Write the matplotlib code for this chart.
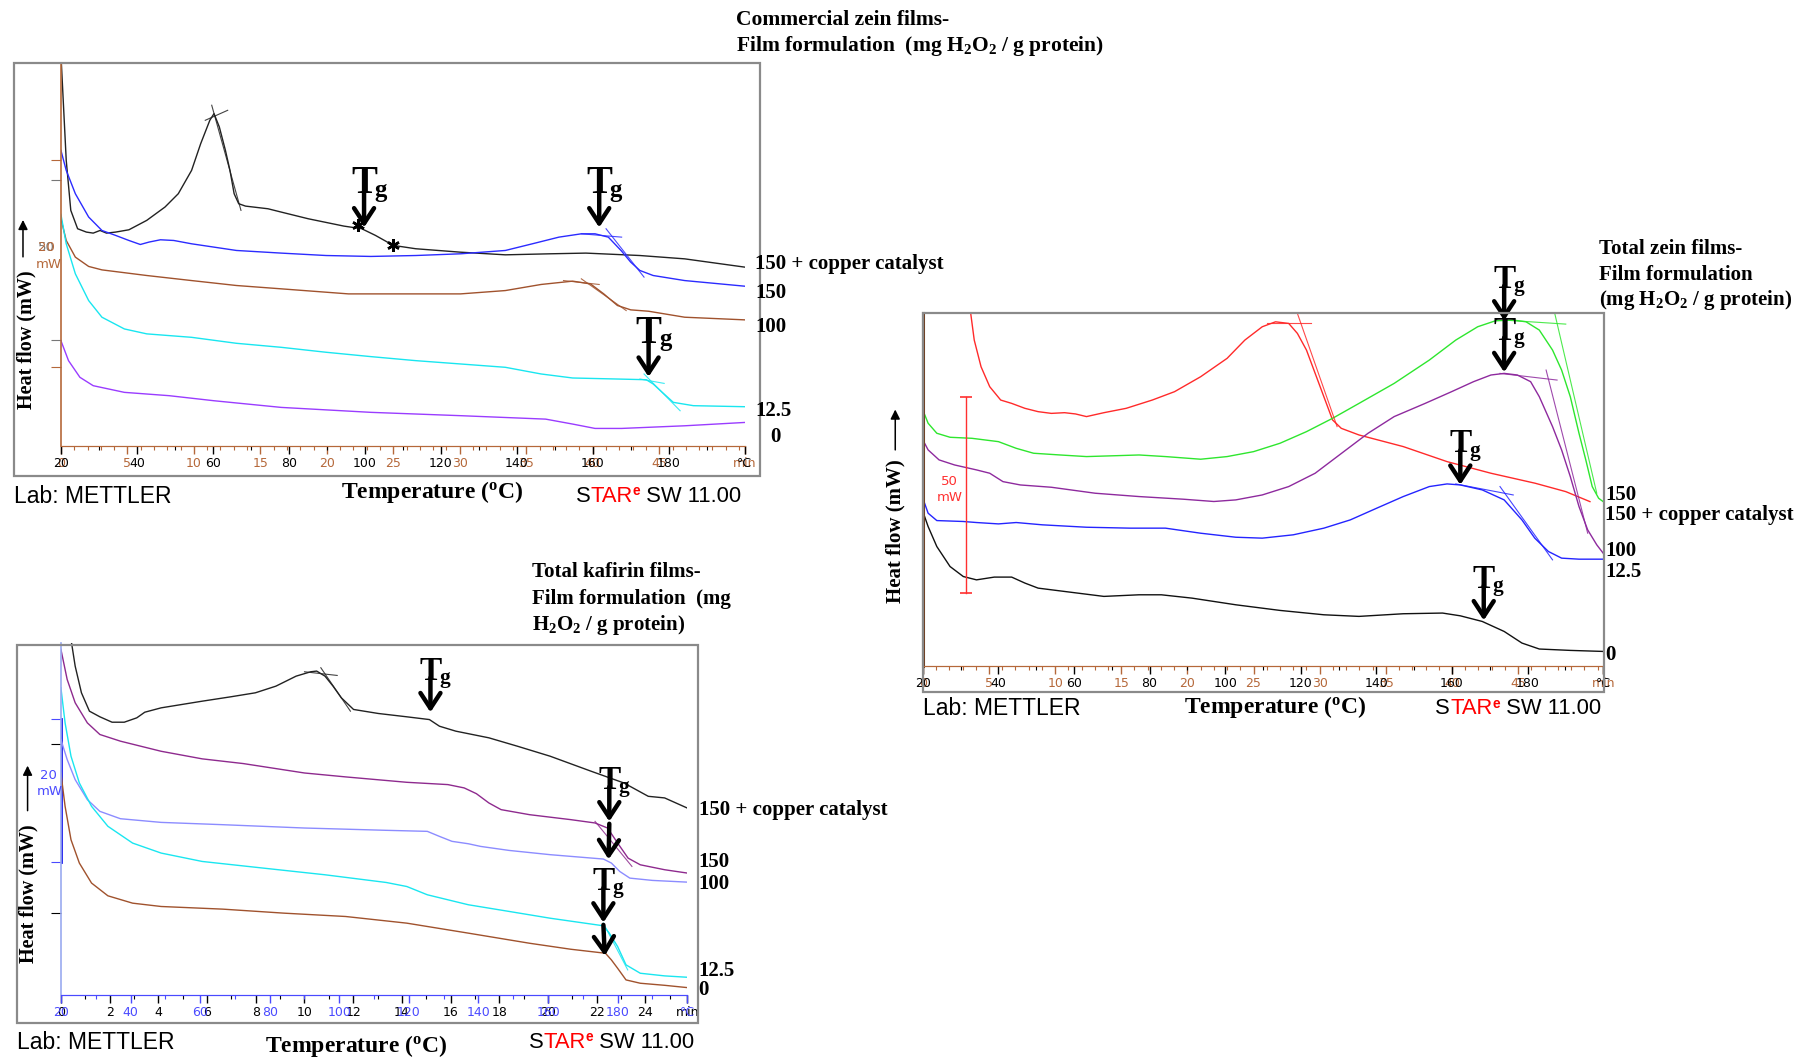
import numpy as np
import matplotlib
matplotlib.use("Agg")
import matplotlib.pyplot as plt
from matplotlib.patches import Rectangle, FancyArrowPatch

plt.rcParams['font.family'] = ['Liberation Serif', 'DejaVu Serif']
plt.rcParams['mathtext.fontset'] = 'custom'
plt.rcParams['mathtext.rm'] = 'Liberation Serif:bold'
plt.rcParams['mathtext.it'] = 'Liberation Serif:bold'
plt.rcParams['mathtext.bf'] = 'Liberation Serif:bold'

# ---------------- data (temperature in °C, heat flow in relative units) ----------------
T_START, T_END = 20, 200
RATE_ZEIN = 3.5      # °C/min  (panels 1 and 2)
RATE_KAF = 7.0       # °C/min  (panel 3)

# Panel 1: Commercial zein films
p1_cu_T = [20.0, 21.4, 22.6, 24.4, 26.7, 28.5, 30.3, 32.0, 34.4, 37.9, 42.6, 47.4, 50.9, 54.4, 56.8, 59.2, 60.3,
           61.7, 63.3, 64.5, 65.6, 66.8, 68.6, 74.5, 78.0, 85.1, 94.5, 99.2, 102.8, 107.5, 113.4, 125.2, 137.0,
           148.8, 158.2, 172.4, 184.2, 200.0]
p1_cu_hf = [341, 248.5, 204.9, 188.9, 186.0, 185.1, 187.4, 185.1, 186.0, 188.0, 196.2, 207.8, 219.4, 239.7, 263.0,
            283.3, 289.1, 277.5, 257.2, 239.7, 219.4, 210.7, 208.6, 206.3, 203.4, 197.6, 191.2, 188.9, 183.1, 174.4,
            171.5, 168.5, 166.2, 167.1, 167.7, 165.6, 162.7, 155.5]
p1_150_T = [20.0, 21.4, 23.8, 27.3, 30.8, 34.4, 37.9, 40.9, 43.2, 46.2, 49.7, 54.4, 66.2, 78.0, 89.8, 101.6, 113.4,
            125.2, 137.0, 144.1, 151.1, 157.0, 160.6, 164.1, 167.6, 170.0, 172.4, 175.9, 184.2, 200.0]
p1_150_hf = [257.2, 239.7, 219.4, 199.1, 187.4, 183.1, 178.7, 175.2, 177.3, 179.3, 178.7, 175.8, 170.0, 167.7, 165.6,
             164.8, 165.6, 167.1, 170.0, 175.8, 181.6, 184.5, 184.5, 181.6, 169.4, 159.8, 152.6, 148.2, 143.8, 138.9]
p1_100_T = [20.0, 21.4, 23.8, 27.3, 30.8, 42.6, 54.4, 66.2, 78.0, 95.7, 125.2, 137.0, 146.4, 154.7, 159.4, 162.9,
            166.5, 170.0, 174.7, 184.2, 200.0]
p1_100_hf = [197.6, 178.7, 164.2, 156.1, 153.1, 148.2, 143.8, 139.5, 136.6, 132.2, 132.2, 135.1, 140.4, 143.3, 140.9,
             132.2, 122.1, 118.3, 117.1, 111.9, 109.6]
p1_125_T = [20.0, 21.4, 23.8, 27.3, 30.8, 36.7, 42.6, 54.4, 66.2, 78.0, 89.8, 101.6, 113.4, 125.2, 137.0, 146.4,
            154.7, 166.5, 174.1, 175.9, 178.3, 181.2, 186.5, 200.0]
p1_125_hf = [201.4, 175.8, 149.7, 126.4, 111.9, 101.7, 97.4, 94.4, 89.2, 85.7, 81.4, 77.6, 74.1, 71.2, 68.3, 62.5,
             59.0, 58.1, 57.5, 53.8, 46.5, 37.8, 34.9, 34.0]
p1_0_T = [20.0, 22.0, 25.0, 28.5, 36.7, 48.5, 60.3, 78.0, 101.6, 125.2, 147.6, 154.7, 160.6, 167.6, 184.2, 200.0]
p1_0_hf = [91.5, 74.1, 59.6, 52.3, 46.5, 43.6, 39.2, 33.4, 29.1, 26.2, 23.2, 18.9, 15.1, 15.1, 17.4, 20.3]
p1_tg = [(99.8, 190), (161.7, 190), (174.7, 60)]
p1_star_T = [98.1, 107.5]
p1_star_hf = [191.8, 174.4]
# evaluation tangents (T pair, hf pair) for: black peak x2, blue x2, brown x2, cyan x2
p1_tan_T = [(58.0, 63.9), (59.7, 67.4), (157.0, 167.6), (163.5, 173.5), (152.3, 161.7), (157.0, 168.8),
            (172.4, 178.8), (173.5, 183.0)]
p1_tan_hf = [(283.3, 292.0), (296.4, 204.9), (184.5, 181.6), (188.9, 146.8), (143.8, 140.4), (145.3, 117.7),
             (58.1, 54.3), (62.5, 30.5)]

# Panel 2: Total zein films
p2_cu_T = [32.2, 33.6, 35.4, 37.7, 40.6, 43.5, 47.0, 50.5, 54.0, 57.5, 60.4, 63.3, 67.9, 73.8, 80.7, 86.6, 93.5,
           100.5, 105.2, 109.8, 113.3, 116.8, 119.1, 121.5, 123.8, 126.1, 128.4, 130.7, 135.4, 147.1, 158.7, 170.3,
           182.0, 190.1, 196.5]
p2_cu_hf = [318.8, 284.0, 260.8, 243.4, 231.8, 228.9, 224.6, 221.7, 220.2, 220.8, 219.7, 217.4, 220.8, 224.6, 231.8,
            239.1, 252.1, 268.1, 284.0, 295.6, 299.9, 298.5, 289.8, 275.3, 255.0, 234.7, 214.5, 207.2, 201.4, 191.3,
            178.2, 168.1, 159.4, 152.1, 143.4]
p2_150_T = [20.0, 21.4, 23.7, 27.2, 33.0, 40.0, 44.7, 49.3, 56.3, 63.3, 71.4, 77.2, 84.2, 93.5, 100.5, 107.5, 114.5,
            121.5, 128.4, 135.4, 144.7, 154.0, 161.0, 166.8, 171.5, 176.2, 179.6, 183.1, 186.6, 189.0, 191.3, 193.6,
            195.4, 197.1, 198.8, 200.0]
p2_150_hf = [223.1, 211.6, 202.9, 199.4, 198.5, 195.6, 189.8, 185.5, 184.0, 182.6, 183.4, 184.0, 182.6, 180.3, 182.6,
             186.9, 194.2, 204.3, 215.9, 228.9, 246.3, 266.6, 284.0, 295.6, 300.8, 301.4, 299.9, 292.7, 275.3, 257.9,
             234.7, 202.9, 179.7, 156.5, 146.3, 143.4]
p2_100_T = [20.0, 21.4, 24.3, 28.4, 34.2, 37.7, 41.2, 45.8, 54.0, 65.6, 77.2, 88.9, 97.0, 102.8, 109.8, 116.8, 123.8,
            130.8, 137.8, 144.7, 152.9, 159.9, 165.7, 170.3, 173.8, 177.3, 180.8, 183.1, 186.6, 189.0, 191.3, 193.6,
            195.9, 198.3, 200.0]
p2_100_hf = [197.1, 188.4, 179.7, 175.3, 171.0, 168.1, 160.8, 157.9, 155.9, 150.7, 147.8, 145.5, 143.5, 144.9, 149.2,
             156.5, 168.1, 185.5, 202.9, 217.4, 228.9, 239.1, 247.8, 253.6, 255.0, 253.6, 247.8, 234.7, 208.7, 188.4,
             165.2, 139.1, 118.8, 105.8, 98.5]
p2_125_T = [20.0, 21.4, 23.7, 30.7, 34.2, 40.0, 44.7, 51.6, 63.3, 74.9, 84.2, 93.5, 102.8, 109.8, 118.0, 126.1, 133.1,
            140.1, 147.1, 154.0, 158.7, 162.2, 168.0, 173.8, 178.5, 181.9, 185.5, 189.0, 193.6, 200.0]
p2_125_hf = [146.3, 133.3, 126.9, 126.1, 125.2, 124.0, 125.2, 123.2, 121.1, 120.3, 120.3, 115.9, 112.4, 111.6, 114.5,
             120.3, 127.5, 137.7, 147.8, 156.5, 158.8, 157.9, 153.6, 144.9, 127.5, 111.6, 100.0, 94.2, 93.3, 93.3]
p2_0_T = [20.0, 21.4, 23.7, 27.2, 30.7, 34.2, 38.9, 43.5, 47.0, 50.5, 57.5, 67.9, 77.2, 83.1, 91.2, 102.8, 114.5,
          126.1, 135.4, 147.1, 157.5, 162.2, 168.0, 173.8, 178.5, 183.1, 191.3, 200.0]
p2_0_hf = [134.8, 121.7, 104.3, 86.9, 78.2, 75.3, 77.7, 77.7, 72.5, 68.1, 65.2, 60.9, 62.3, 62.3, 59.4, 53.6, 48.7,
           44.9, 43.5, 45.8, 46.4, 44.0, 39.1, 30.4, 20.3, 15.1, 13.9, 13.0]
p2_tg = [(173.8, 301), (173.8, 256), (162.2, 158), (168.4, 40)]
p2_scale_T = 31.5
p2_scale_hf = [63.8, 234.7]      # 50 mW
# tangents for: red x2, green x2, purple x2, blue x2
p2_tan_T = [(111.0, 122.6), (119.1, 129.6), (173.8, 190.1), (187.2, 198.3), (172.7, 187.8), (184.9, 195.9),
            (161.0, 176.2), (172.7, 186.6)]
p2_tan_hf = [(299.1, 299.1), (307.2, 208.7), (301.4, 297.9), (307.0, 150.7), (255.0, 249.2), (257.9, 115.9),
             (158.8, 149.2), (156.5, 92.7)]

# Panel 3: Total kafirin films
p3_cu_T = [22.9, 24.1, 25.9, 28.2, 31.2, 34.7, 38.2, 41.8, 44.1, 48.8, 54.7, 60.6, 68.8, 75.9, 81.8, 87.6, 91.8,
           93.5, 95.9, 98.2, 100.6, 104.1, 111.2, 119.4, 125.9, 128.8, 133.5, 143.0, 151.2, 160.6, 172.4, 181.8,
           188.8, 193.5, 200.0]
p3_cu_hf = [309.5, 286.2, 263.0, 247.0, 242.1, 237.4, 237.4, 241.2, 246.1, 249.9, 252.8, 255.7, 259.5, 263.0, 268.8,
            277.5, 281.3, 281.9, 277.5, 268.8, 258.6, 248.5, 245.0, 242.1, 239.7, 233.9, 229.6, 223.8, 216.5, 207.8,
            194.7, 184.5, 172.9, 171.5, 162.7]
p3_150_T = [20.0, 21.8, 24.1, 27.6, 31.2, 37.1, 48.8, 60.6, 72.4, 90.0, 101.8, 119.4, 131.2, 135.9, 139.4, 143.0,
            146.5, 154.7, 166.5, 173.5, 177.1, 180.0, 183.0, 186.5, 193.5, 200.0]
p3_150_hf = [300.8, 274.6, 254.3, 236.8, 226.7, 220.9, 212.1, 205.5, 201.4, 193.2, 189.8, 185.1, 183.1, 180.2, 175.2,
             167.1, 161.3, 156.9, 152.6, 149.7, 145.3, 132.2, 119.1, 113.3, 109.0, 106.1]
p3_100_T = [20.0, 21.8, 24.1, 27.6, 31.2, 37.1, 48.8, 66.5, 90.0, 113.5, 125.3, 128.8, 132.4, 137.1, 140.6, 148.8,
            160.6, 175.9, 178.2, 180.6, 183.5, 190.0, 200.0]
p3_100_hf = [222.3, 204.9, 187.4, 170.0, 159.8, 153.4, 150.2, 148.2, 145.3, 143.3, 142.4, 138.0, 133.7, 131.6, 129.3,
             125.8, 122.1, 118.3, 114.8, 107.5, 101.7, 99.7, 98.2]
p3_125_T = [20.0, 21.2, 22.9, 25.3, 28.8, 33.5, 40.6, 48.8, 60.6, 78.2, 95.9, 113.5, 119.4, 125.3, 137.1, 148.8,
            160.6, 175.9, 177.6, 180.0, 182.4, 186.5, 193.5, 200.0]
p3_125_hf = [267.4, 236.8, 207.8, 184.5, 164.2, 146.8, 132.2, 123.5, 116.2, 110.4, 104.6, 97.9, 94.4, 87.2, 78.5,
             72.7, 66.8, 60.2, 53.8, 42.1, 26.2, 18.9, 16.6, 15.4]
p3_0_T = [20.0, 21.2, 22.9, 25.3, 28.8, 33.5, 40.6, 48.8, 66.5, 84.1, 101.8, 119.4, 137.1, 154.7, 166.5, 176.5,
          178.2, 180.0, 182.4, 186.5, 193.5, 200.0]
p3_0_hf = [193.2, 164.2, 135.1, 114.8, 97.4, 86.3, 79.9, 77.0, 74.7, 71.2, 68.3, 62.5, 53.8, 45.0, 39.8, 36.3, 30.5,
           23.2, 13.1, 10.2, 8.4, 6.4]
p3_tg_single = [(126.2, 246)]
p3_tg_double = [((177.6, 151), (177.4, 118)), ((175.9, 63), (176.3, 34))]
# tangents for: black peak x2, purple, cyan
p3_tan_T = [(90.0, 99.4), (94.7, 103.2), (173.5, 184.1), (175.9, 182.9)]
p3_tan_hf = [(281.3, 278.1), (284.8, 247.0), (151.1, 111.9), (62.5, 21.8)]

labels_p1 = ["150 + copper catalyst", "150", "100", "12.5", "0"]
labels_p2 = ["150", "150 + copper catalyst", "100", "12.5", "0"]
labels_p3 = ["150 + copper catalyst", "150", "100", "12.5", "0"]

# ---------------- layout helpers ----------------
W, H = 1568.0, 920.0
fig = plt.figure(figsize=(18.02, 10.57), dpi=100)


def fx(x):
    return x / W


def fy(y):
    return 1 - y / H


def ftext(x, y, s, **kw):
    return fig.text(fx(x), fy(y), s, **kw)


def fbox(l, t, r, b):
    fig.add_artist(Rectangle((fx(l), fy(b)), (r - l) / W, (b - t) / H, transform=fig.transFigure,
                             fill=False, ec='#8a8a8a', lw=1.6))


def farrow(x, y0, y1, color='black'):
    fig.add_artist(FancyArrowPatch((fx(x), fy(y0)), (fx(x), fy(y1)), transform=fig.transFigure,
                                   arrowstyle='-|>', mutation_scale=14, lw=1.1, color=color))


def setup(l, t, r, b, ymax, axis_col, temp_col, time_col, rate, t_major, left_col=None, left_lw=1.2):
    ax = fig.add_axes([fx(l), fy(b), (r - l) / W, (b - t) / H])
    ax.set_xlim(T_START, T_END)
    ax.set_ylim(0, ymax)
    ax.patch.set_visible(False)
    ax.spines['top'].set_visible(False)
    ax.spines['right'].set_visible(False)
    ax.spines['bottom'].set_color(axis_col)
    ax.spines['left'].set_color(left_col or axis_col)
    ax.spines['left'].set_linewidth(left_lw)
    temps = list(range(20, 181, 20))
    ax.set_xticks(temps + [T_END])
    ax.set_xticklabels([str(v) for v in temps] + ['°C'], fontfamily='DejaVu Sans')
    ax.tick_params(axis='x', which='major', direction='out', length=6, width=1, color=temp_col,
                   labelcolor=temp_col, labelsize=9, pad=2)
    ax.set_xticks(np.arange(30, 200, 20), minor=True)
    ax.tick_params(axis='x', which='minor', direction='out', length=3, width=0.8, color=temp_col)
    ax.set_yticks([])
    t_end = (T_END - T_START) / rate
    sec = ax.secondary_xaxis('bottom', functions=(lambda T: (T - T_START) / rate,
                                                  lambda tm: T_START + tm * rate))
    major = list(np.arange(0, t_end - t_major * 0.5, t_major))
    sec.set_xticks(major + [t_end])
    sec.set_xticklabels([f"{v:g}" for v in major] + ['min'], fontfamily='DejaVu Sans')
    sec.tick_params(which='major', direction='out', length=6, width=1, color=time_col,
                    labelcolor=time_col, labelsize=9, pad=2)
    sec.set_xticks(np.arange(1, t_end, 1), minor=True)
    sec.tick_params(which='minor', direction='out', length=3, width=0.8, color=time_col)
    sec.spines['bottom'].set_color(axis_col)
    return ax


AP = dict(arrowstyle='->,head_length=0.55,head_width=0.36', lw=3.2, color='black',
          shrinkA=0, shrinkB=0, mutation_scale=20)


def tg(ax, T, hf, L, size):
    ax.annotate('', xy=(T, hf), xytext=(0, L), textcoords='offset points', arrowprops=AP,
                annotation_clip=False)
    ax.annotate('T', xy=(T, hf), xytext=(0, L - 1.5), textcoords='offset points', ha='center',
                va='baseline', fontsize=size, fontweight='bold', annotation_clip=False)
    ax.annotate('g', xy=(T, hf), xytext=(0.27 * size, L - 4), textcoords='offset points', ha='left',
                va='baseline', fontsize=0.64 * size, fontweight='bold', annotation_clip=False)


def tg_chain(ax, p_from, p_to):
    ax.annotate('', xy=p_to, xytext=(p_from[0], p_from[1] - 2), arrowprops=AP, annotation_clip=False)


def tangents(ax, Ts, hfs, colors):
    for (t0, t1), (h0, h1), c in zip(Ts, hfs, colors):
        ax.plot([t0, t1], [h0, h1], color=c, lw=0.8, alpha=0.85)


def star_label(ax, x, y, size=15.8):
    t1 = ftext(x, y, 'S', fontsize=size, family='Liberation Sans', va='center', ha='left')
    t2 = ax.annotate('TAR', xy=(1, 0), xycoords=t1, va='bottom', ha='left', color='red',
                     fontsize=size, family='Liberation Sans', annotation_clip=False)
    t3 = ax.annotate('e', xy=(1, 0.42), xycoords=t2, va='bottom', ha='left', color='red',
                     fontsize=size * 0.62, family='Liberation Sans', fontweight='bold', annotation_clip=False)
    ax.annotate(' SW 11.00', xy=(1, 0), xycoords=(t3, t2), va='bottom', ha='left',
                fontsize=size, family='Liberation Sans', annotation_clip=False)


LW = 1.0
BROWN_AX = '#b5683a'

# ================= Panel 1 =================
C1 = dict(cu='#222222', s150='#2b2bff', s100='#a0522d', s125='#19e6f0', s0='#9a3cff')
fbox(12, 55, 661, 414)
ax1 = setup(53, 55, 648, 388, 333, BROWN_AX, 'black', BROWN_AX, RATE_ZEIN, 5)
ax1.set_yticks([69, 249])
ax1.tick_params(axis='y', direction='out', length=7, color=BROWN_AX, labelleft=False)
sy1 = ax1.secondary_yaxis('left')
sy1.set_yticks([92, 231])
sy1.tick_params(direction='out', length=7, color='#777777', labelleft=False)
sy1.spines['left'].set_visible(False)

ax1.plot(p1_cu_T, p1_cu_hf, color=C1['cu'], lw=LW)
ax1.plot(p1_150_T, p1_150_hf, color=C1['s150'], lw=LW)
ax1.plot(p1_100_T, p1_100_hf, color=C1['s100'], lw=LW)
ax1.plot(p1_125_T, p1_125_hf, color=C1['s125'], lw=LW)
ax1.plot(p1_0_T, p1_0_hf, color=C1['s0'], lw=LW)
tangents(ax1, p1_tan_T, p1_tan_hf, [C1['cu']] * 2 + [C1['s150']] * 2 + [C1['s100']] * 2 + [C1['s125']] * 2)
ax1.plot(p1_star_T, p1_star_hf, ls='none', marker=(6, 2, 0), ms=9, mew=1.8, color='black')
for T, hf in p1_tg:
    tg(ax1, T, hf, 26, 28)

ftext(640, 17, "Commercial zein films-", fontsize=15.5, fontweight='bold', va='center')
ftext(640, 40, "Film formulation  (mg H$_2$O$_2$ / g protein)", fontsize=15.5, fontweight='bold', va='center')
for s, y in zip(labels_p1, [230, 255, 285, 358, 380]):
    if s == "0":
        ftext(675, y, s, fontsize=15, fontweight='bold', va='center', ha='center')
    else:
        ftext(657, y, s, fontsize=15, fontweight='bold', va='center')
ftext(23, 296, "Heat flow (mW)", fontsize=14.5, fontweight='bold', rotation=90, va='center', ha='center')
farrow(20, 226, 189)
ftext(33, 215, "50", fontsize=9.5, family='DejaVu Sans', color='#777777', va='center')
ftext(33, 215, "20", fontsize=9.5, family='DejaVu Sans', color=BROWN_AX, va='center')
ftext(31, 230, "mW", fontsize=9.5, family='DejaVu Sans', color=BROWN_AX, va='center')
ftext(12, 432, "Lab: METTLER", fontsize=16.5, family='Liberation Sans', va='center')
ftext(376, 428, "Temperature ($^{\\mathrm{o}}$C)", fontsize=17, fontweight='bold', va='center', ha='center')
star_label(ax1, 501, 432)

# ================= Panel 2 =================
C2 = dict(cu='#ff2a2a', s150='#2ee62e', s100='#8e2a9e', s125='#2424ff', s0='#111111')
fbox(803, 272, 1396, 602)
ax2 = setup(803, 272, 1395, 580, 308, BROWN_AX, 'black', BROWN_AX, RATE_ZEIN, 5,
            left_col='#6b3a1a', left_lw=2.2)
ax2.plot(p2_cu_T, p2_cu_hf, color=C2['cu'], lw=LW)
ax2.plot(p2_150_T, p2_150_hf, color=C2['s150'], lw=LW)
ax2.plot(p2_100_T, p2_100_hf, color=C2['s100'], lw=LW)
ax2.plot(p2_125_T, p2_125_hf, color=C2['s125'], lw=LW)
ax2.plot(p2_0_T, p2_0_hf, color=C2['s0'], lw=LW)
tangents(ax2, p2_tan_T, p2_tan_hf, [C2['cu']] * 2 + [C2['s150']] * 2 + [C2['s100']] * 2 + [C2['s125']] * 2)
ax2.plot([p2_scale_T, p2_scale_T], p2_scale_hf, color='#ff3030', lw=1.0, marker='_', ms=8, mew=1.2)
for T, hf in p2_tg:
    tg(ax2, T, hf, 25, 24)

ftext(1391, 217, "Total zein films-", fontsize=15, fontweight='bold', va='center')
ftext(1391, 239, "Film formulation", fontsize=15, fontweight='bold', va='center')
ftext(1391, 261, "(mg H$_2$O$_2$ / g protein)", fontsize=15, fontweight='bold', va='center')
for s, y in zip(labels_p2, [431, 448, 480, 498, 570]):
    ftext(1397, y, s, fontsize=15, fontweight='bold', va='center')
ftext(779, 462, "Heat flow (mW)", fontsize=15, fontweight='bold', rotation=90, va='center', ha='center')
farrow(779, 394, 354)
ftext(826, 419, "50", fontsize=9.5, family='DejaVu Sans', color='#ff3030', va='center', ha='center')
ftext(826, 433, "mW", fontsize=9.5, family='DejaVu Sans', color='#ff3030', va='center', ha='center')
ftext(803, 617, "Lab: METTLER", fontsize=16.5, family='Liberation Sans', va='center')
ftext(1110, 615, "Temperature ($^{\\mathrm{o}}$C)", fontsize=17, fontweight='bold', va='center', ha='center')
star_label(ax2, 1249, 617)

# ================= Panel 3 =================
BLUE_AX = '#4a4aff'
C3 = dict(cu='#222222', s150='#8e2a8e', s100='#8c8cff', s125='#1ae6f0', s0='#a0522d')
fbox(15, 561, 607, 890)
ax3 = setup(53, 560, 598, 866, 306, BLUE_AX, BLUE_AX, 'black', RATE_KAF, 2,
            left_col='#9aaaf0', left_lw=1.2)
p3_scale_hf = [116, 240]
ax3.set_yticks(p3_scale_hf)
ax3.tick_params(axis='y', direction='out', length=7, color=BLUE_AX, labelleft=False)
ax3.axvline(T_START, ymin=p3_scale_hf[0] / 306, ymax=p3_scale_hf[1] / 306, color='#1a1aee', lw=2)
sy3 = ax3.secondary_yaxis('left')
sy3.set_yticks([71, 218])
sy3.tick_params(direction='out', length=7, color='black', labelleft=False)
sy3.spines['left'].set_visible(False)

ax3.plot(p3_cu_T, p3_cu_hf, color=C3['cu'], lw=LW)
ax3.plot(p3_150_T, p3_150_hf, color=C3['s150'], lw=LW)
ax3.plot(p3_100_T, p3_100_hf, color=C3['s100'], lw=LW)
ax3.plot(p3_125_T, p3_125_hf, color=C3['s125'], lw=LW)
ax3.plot(p3_0_T, p3_0_hf, color=C3['s0'], lw=LW)
tangents(ax3, p3_tan_T, p3_tan_hf, [C3['cu']] * 2 + [C3['s150'], C3['s125']])
for T, hf in p3_tg_single:
    tg(ax3, T, hf, 25, 24)
for a, b in p3_tg_double:
    tg(ax3, a[0], a[1], 25, 24)
    tg_chain(ax3, a, b)

ftext(463, 498, "Total kafirin films-", fontsize=15, fontweight='bold', va='center')
ftext(463, 521, "Film formulation  (mg", fontsize=15, fontweight='bold', va='center')
ftext(463, 544, "H$_2$O$_2$ / g protein)", fontsize=15, fontweight='bold', va='center')
for s, y in zip(labels_p3, [705, 750, 769, 845, 862]):
    ftext(608, y, s, fontsize=15, fontweight='bold', va='center')
ftext(25, 778, "Heat flow (mW)", fontsize=14.5, fontweight='bold', rotation=90, va='center', ha='center')
farrow(24, 708, 664)
ftext(35, 675, "20", fontsize=9.5, family='DejaVu Sans', color=BLUE_AX, va='center')
ftext(32, 689, "mW", fontsize=9.5, family='DejaVu Sans', color=BLUE_AX, va='center')
ftext(15, 907, "Lab: METTLER", fontsize=16.5, family='Liberation Sans', va='center')
ftext(310, 910, "Temperature ($^{\\mathrm{o}}$C)", fontsize=17, fontweight='bold', va='center', ha='center')
star_label(ax3, 460, 907)

fig.savefig("out.png", dpi=100)
